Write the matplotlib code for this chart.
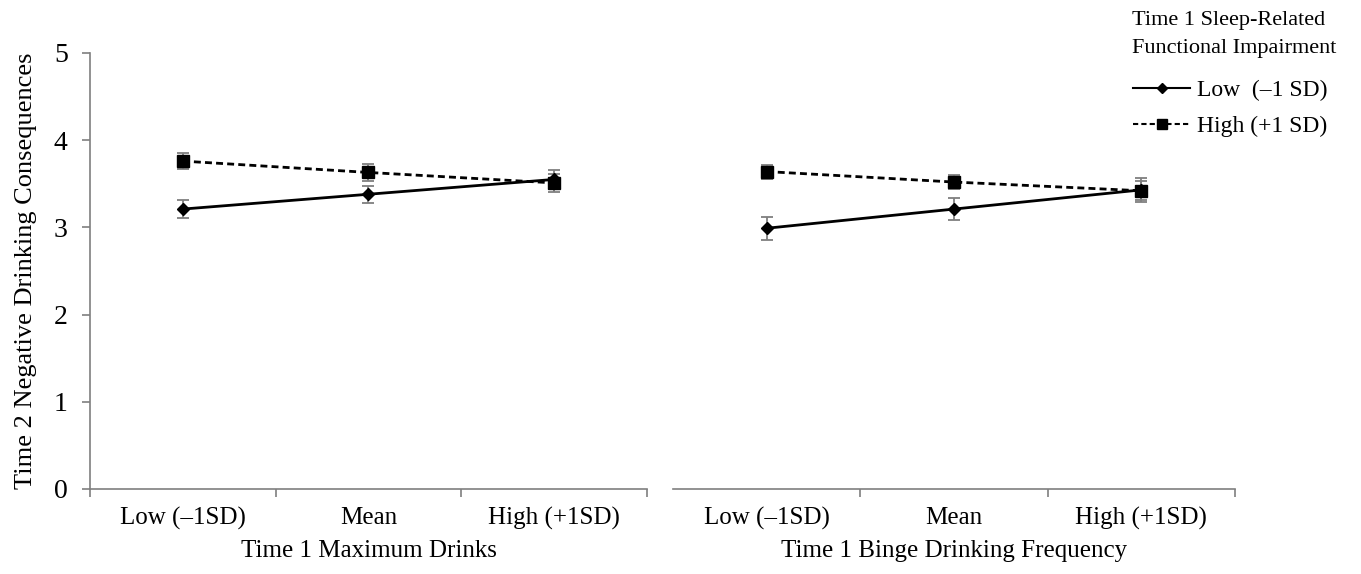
import matplotlib
matplotlib.use("Agg")
import matplotlib.pyplot as plt
from matplotlib.lines import Line2D

plt.rcParams['font.family'] = ['Liberation Serif', 'DejaVu Serif']

categories = ["Low (–1SD)", "Mean", "High (+1SD)"]
series_names = ["Low  (–1 SD)", "High (+1 SD)"]

# left panel: Time 1 Maximum Drinks
max_low = [3.21, 3.38, 3.55]
max_low_err = [0.10, 0.10, 0.11]
max_high = [3.76, 3.63, 3.51]
max_high_err = [0.09, 0.10, 0.10]

# right panel: Time 1 Binge Drinking Frequency
binge_low = [2.99, 3.21, 3.43]
binge_low_err = [0.13, 0.13, 0.14]
binge_high = [3.64, 3.52, 3.42]
binge_high_err = [0.08, 0.08, 0.11]

x = [0.5, 1.5, 2.5]
axis_grey = "#7f7f7f"

fig = plt.figure(figsize=(13.61, 5.74), dpi=100)
ax1 = fig.add_axes([0.0661, 0.1481, 0.4093, 0.7596])
ax2 = fig.add_axes([0.4945, 0.1481, 0.4129, 0.7596])


def draw_panel(ax, low, low_err, high, high_err, xlabel, show_y):
    ax.errorbar(x, high, yerr=high_err, fmt="none", ecolor=axis_grey,
                elinewidth=1.3, capsize=4.5, capthick=1.3, zorder=2)
    ax.errorbar(x, low, yerr=low_err, fmt="none", ecolor=axis_grey,
                elinewidth=1.3, capsize=4.5, capthick=1.3, zorder=2)
    ax.plot(x, high, color="black", lw=2, linestyle=(0, (2.5, 1.5)),
            marker="s", markersize=8.5, zorder=3)
    ax.plot(x, low, color="black", lw=2, linestyle="-",
            marker="D", markersize=6.5, zorder=4)

    ax.set_xlim(0, 3)
    ax.set_ylim(0, 5)
    ax.set_xticks(x)
    ax.set_xticklabels(categories, fontsize=18)
    ax.tick_params(axis="x", which="major", length=0, pad=13)
    if show_y:
        ax.set_xticks([0, 1, 2, 3], minor=True)
    else:
        ax.set_xticks([1, 2, 3], minor=True)
    ax.tick_params(axis="x", which="minor", length=6, color=axis_grey, width=1.2)
    ax.set_xlabel(xlabel, fontsize=18, labelpad=7)

    for s in ["top", "right"]:
        ax.spines[s].set_visible(False)
    ax.spines["bottom"].set_color(axis_grey)
    ax.spines["bottom"].set_linewidth(1.2)
    if show_y:
        ax.spines["left"].set_color(axis_grey)
        ax.spines["left"].set_linewidth(1.2)
        ax.set_yticks([0, 1, 2, 3, 4, 5])
        ax.tick_params(axis="y", length=6, color=axis_grey, width=1.2,
                       labelsize=20, pad=10)
        ax.set_ylabel("Time 2 Negative Drinking Consequences", fontsize=19,
                      labelpad=12)
    else:
        ax.spines["left"].set_visible(False)
        ax.set_yticks([])


draw_panel(ax1, max_low, max_low_err, max_high, max_high_err,
           "Time 1 Maximum Drinks", True)
draw_panel(ax2, binge_low, binge_low_err, binge_high, binge_high_err,
           "Time 1 Binge Drinking Frequency", False)

# legend title drawn as its own text, entries below it
fig.text(0.8317, 0.981, "Time 1 Sleep-Related\nFunctional Impairment",
         fontsize=16, ha="left", va="top", linespacing=1.63)

handles = [
    Line2D([], [], color="black", lw=1.5, linestyle="-", marker="D",
           markersize=5),
    Line2D([], [], color="black", lw=1.5, linestyle=(0, (2.5, 1.5)),
           marker="s", markersize=7),
]
leg = fig.legend(handles, series_names, loc="upper left",
                 bbox_to_anchor=(0.817, 0.898), frameon=False, fontsize=17,
                 handlelength=2.4, handletextpad=0.3, labelspacing=0.62)

fig.savefig("out.png", dpi=100)
